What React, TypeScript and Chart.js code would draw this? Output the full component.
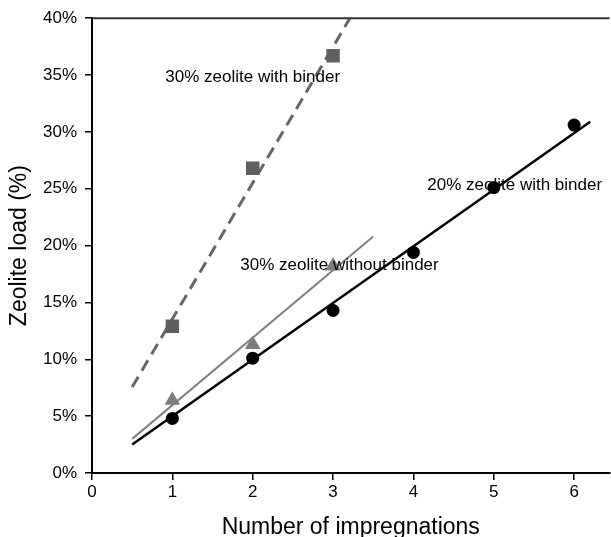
import React, { useEffect, useRef } from "react";
import { Chart, registerables } from "chart.js";

Chart.register(...registerables);

// Measured data (x = number of impregnations, y = zeolite load %)
const impregnations = [1, 2, 3, 4, 5, 6];
const load20WithBinder = [4.8, 10.1, 14.3, 19.4, 25.1, 30.6];
const impregnations30 = [1, 2, 3];
const load30WithoutBinder = [6.4, 11.3, 18.2];
const load30WithBinder = [12.9, 26.8, 36.7];

// Trend line end points [x, y]
const fit20WithBinder = [[0.5, 2.5], [6.2, 30.9]];
const fit30WithoutBinder = [[0.5, 3.0], [3.5, 20.8]];
const fit30WithBinder = [[0.5, 7.56], [3.21, 40]];

// Labels placed in data coordinates [x, y]
const labelTexts = ["30% zeolite with binder", "20% zeolite with binder", "30% zeolite without binder"];
const labelPositions = [[2.0, 34.8], [5.26, 25.3], [3.08, 18.3]];

const xTitle = "Number of impregnations";
const yTitle = "Zeolite load (%)";
const yTicks = [0, 5, 10, 15, 20, 25, 30, 35, 40];

const FONT = "Arial, 'Liberation Sans', sans-serif";

const toPts = (xs: number[], ys: number[]) => xs.map((x, i) => ({ x, y: ys[i] }));
const toLine = (arr: number[][]) => arr.map(([x, y]) => ({ x, y }));

export default function App() {
  const ref = useRef<HTMLCanvasElement>(null);
  useEffect(() => {
    if (!ref.current) return;
    const extras = {
      id: "extras",
      afterDatasetsDraw(chart: any) {
        const { ctx, chartArea, scales } = chart;
        ctx.save();
        ctx.strokeStyle = "#333";
        ctx.lineWidth = 2;
        ctx.beginPath();
        ctx.moveTo(chartArea.left, chartArea.top);
        ctx.lineTo(chartArea.right, chartArea.top);
        ctx.stroke();
        ctx.fillStyle = "#000";
        ctx.font = `17px ${FONT}`;
        ctx.textAlign = "center";
        ctx.textBaseline = "middle";
        labelTexts.forEach((t, i) => {
          const [x, y] = labelPositions[i];
          ctx.fillText(t, scales.x.getPixelForValue(x), scales.y.getPixelForValue(y));
        });
        ctx.restore();
      },
    };
    const chart = new Chart(ref.current, {
      type: "scatter",
      data: {
        datasets: [
          {
            label: "20% zeolite with binder",
            data: toPts(impregnations, load20WithBinder),
            pointStyle: "circle",
            pointRadius: 6.5,
            backgroundColor: "#000",
            borderColor: "#000",
            borderWidth: 0,
            showLine: false,
          },
          {
            label: "30% zeolite without binder",
            data: toPts(impregnations30, load30WithoutBinder),
            pointStyle: "triangle",
            pointRadius: 9,
            backgroundColor: "#7d7d7d",
            borderColor: "#7d7d7d",
            borderWidth: 0,
            showLine: false,
          },
          {
            label: "30% zeolite with binder",
            data: toPts(impregnations30, load30WithBinder),
            pointStyle: "rect",
            pointRadius: 9.5,
            backgroundColor: "#5f5f5f",
            borderColor: "#5f5f5f",
            borderWidth: 0,
            showLine: false,
          },
          {
            label: "fit 20",
            data: toLine(fit20WithBinder),
            showLine: true,
            pointRadius: 0,
            borderColor: "#000",
            borderWidth: 2.5,
          },
          {
            label: "fit 30 no binder",
            data: toLine(fit30WithoutBinder),
            showLine: true,
            pointRadius: 0,
            borderColor: "#808080",
            borderWidth: 2,
          },
          {
            label: "fit 30 binder",
            data: toLine(fit30WithBinder),
            showLine: true,
            pointRadius: 0,
            borderColor: "#666",
            borderWidth: 3,
            borderDash: [12, 7],
          },
        ],
      },
      options: {
        animation: false,
        responsive: false,
        layout: { padding: { top: 18, right: 0, left: 0, bottom: 0 } },
        plugins: { legend: { display: false }, tooltip: { enabled: false } },
        scales: {
          x: {
            type: "linear",
            min: 0,
            max: 6.44,
            afterFit: (s: any) => { s.height = 64; },
            ticks: {
              stepSize: 1,
              includeBounds: false,
              color: "#000",
              font: { family: FONT, size: 17 },
              padding: 2,
            },
            grid: { display: true, drawOnChartArea: false, drawTicks: true, tickLength: 7, color: "#000", lineWidth: 1.5 },
            border: { display: true, color: "#000", width: 2 },
            title: {
              display: true,
              text: xTitle,
              color: "#000",
              font: { family: FONT, size: 23, lineHeight: 1 },
              padding: { top: 0, bottom: -2 },
            },
          },
          y: {
            type: "linear",
            min: 0,
            max: 40,
            afterFit: (s: any) => { s.width = 92; },
            afterBuildTicks: (s: any) => { s.ticks = yTicks.map((v) => ({ value: v })); },
            ticks: {
              color: "#000",
              font: { family: FONT, size: 17 },
              padding: 8,
              callback: (v: any) => `${v}%`,
            },
            grid: { display: true, drawOnChartArea: false, drawTicks: true, tickLength: 7, color: "#000", lineWidth: 1.5 },
            border: { display: true, color: "#000", width: 2 },
            title: {
              display: true,
              text: yTitle,
              color: "#000",
              font: { family: FONT, size: 23 },
              padding: { top: 6, bottom: 0 },
            },
          },
        },
      },
      plugins: [extras],
    });
    return () => chart.destroy();
  }, []);
  return (
    <div style={{ position: "fixed", left: 0, top: 0, width: 611, height: 537, overflow: "hidden", background: "#fff" }}>
      <canvas ref={ref} width={619} height={537} style={{ display: "block" }} />
    </div>
  );
}
